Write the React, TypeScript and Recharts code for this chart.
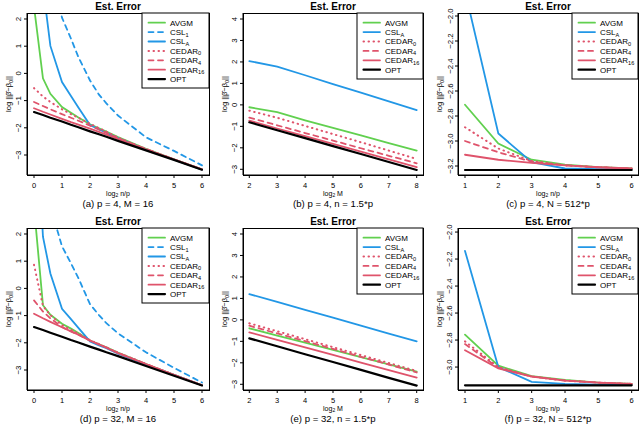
import React from "react";
import { LineChart, Line, XAxis, YAxis } from "recharts";

const FONT = '"Liberation Sans", Arial, Helvetica, sans-serif';
const RED = "#DF536B";
const GREEN = "#61D04F";
const BLUE = "#2297E6";

// x positions: log2 n/p, log2 M
const LOGNP_X = [0, 0.32, 0.585, 1, 1.32, 1.585, 2, 2.32, 2.585, 3, 4, 5, 6];
const LOGM_X = [2, 3, 4, 5, 6, 7, 8];
const LOGNP_X_BIG = [1, 2, 3, 4, 5, 6];

// (a) p = 4, M = 16
const A_AVGM = [2.46, -0.18, -0.75, -1.24, -1.45, -1.62, -1.87, -2.02, -2.14, -2.34, -2.77, -3.16, -3.53];
const A_CSL1 = [9, 6.5, 4, 2.05, 1.28, 0.6, -0.26, -0.78, -1.1, -1.55, -2.35, -2.85, -3.38];
const A_CSLA = [6.5, 3.2, 1.01, -0.32, -0.83, -1.25, -1.9, -2.06, -2.18, -2.38, -2.8, -3.17, -3.54];
const A_CED0 = [-0.54, -0.85, -1.05, -1.32, -1.5, -1.63, -1.85, -2.01, -2.14, -2.36, -2.78, -3.16, -3.53];
const A_CED4 = [-1.05, -1.2, -1.32, -1.5, -1.63, -1.74, -1.92, -2.06, -2.18, -2.38, -2.78, -3.16, -3.53];
const A_CED16 = [-1.28, -1.41, -1.51, -1.67, -1.79, -1.88, -2.03, -2.15, -2.25, -2.41, -2.79, -3.16, -3.53];
const A_OPT = [-1.42, -1.53, -1.63, -1.77, -1.89, -1.98, -2.13, -2.24, -2.33, -2.48, -2.83, -3.18, -3.54];

// (b) p = 4, n = 1.5*p
const B_AVGM = [-0.11, -0.34, -0.72, -1.07, -1.42, -1.78, -2.13];
const B_CSLA = [2.04, 1.78, 1.38, 0.97, 0.57, 0.16, -0.24];
const B_CED0 = [-0.27, -0.6, -0.98, -1.36, -1.74, -2.13, -2.52];
const B_CED4 = [-0.59, -0.95, -1.31, -1.66, -2.02, -2.37, -2.72];
const B_CED16 = [-0.73, -1.1, -1.46, -1.82, -2.18, -2.54, -2.9];
const B_OPT = [-0.81, -1.18, -1.55, -1.92, -2.29, -2.66, -3.03];

// (c) p = 4, N = 512*p
const C_AVGM = [-2.71, -3.02, -3.15, -3.19, -3.21, -3.22];
const C_CSLA = [-1.8, -2.94, -3.17, -3.22, -3.225, -3.225];
const C_CED0 = [-2.89, -3.06, -3.16, -3.195, -3.21, -3.22];
const C_CED4 = [-3.0, -3.09, -3.165, -3.195, -3.21, -3.22];
const C_CED16 = [-3.11, -3.15, -3.175, -3.195, -3.21, -3.22];
const C_OPT = [-3.232, -3.232, -3.232, -3.232, -3.232, -3.232];

// (d) p = 32, M = 16
const D_AVGM = [3.0, -0.62, -0.97, -1.3, -1.48, -1.64, -1.92, -2.06, -2.17, -2.36, -2.78, -3.18, -3.56];
const D_CSL1 = [8, 5, 3, 1.55, 0.92, 0.38, -0.58, -0.98, -1.28, -1.65, -2.35, -2.92, -3.46];
const D_CSLA = [8, 1.9, 0.55, -0.75, -1.13, -1.45, -1.95, -2.1, -2.2, -2.4, -2.8, -3.18, -3.56];
const D_CED0 = [0.87, -0.65, -0.98, -1.35, -1.52, -1.66, -1.9, -2.05, -2.17, -2.36, -2.78, -3.18, -3.56];
const D_CED4 = [-0.44, -0.85, -1.1, -1.42, -1.58, -1.7, -1.92, -2.06, -2.17, -2.37, -2.78, -3.18, -3.56];
const D_CED16 = [-0.93, -1.1, -1.23, -1.43, -1.58, -1.7, -1.92, -2.06, -2.18, -2.38, -2.78, -3.18, -3.56];
const D_OPT = [-1.42, -1.53, -1.63, -1.78, -1.9, -1.99, -2.14, -2.25, -2.35, -2.49, -2.85, -3.21, -3.57];

// (e) p = 32, n = 1.5*p
const E_AVGM = [-0.39, -0.73, -1.06, -1.4, -1.74, -2.07, -2.41];
const E_CSLA = [1.2, 0.84, 0.47, 0.1, -0.27, -0.64, -1.0];
const E_CED0 = [-0.16, -0.53, -0.9, -1.27, -1.64, -2.01, -2.38];
const E_CED4 = [-0.27, -0.63, -0.99, -1.35, -1.72, -2.08, -2.45];
const E_CED16 = [-0.58, -0.93, -1.28, -1.63, -1.99, -2.34, -2.69];
const E_OPT = [-0.86, -1.23, -1.6, -1.96, -2.33, -2.7, -3.06];

// (f) p = 32, N = 512*p
const F_AVGM = [-2.76, -2.99, -3.067, -3.096, -3.115, -3.125];
const F_CSLA = [-2.14, -3.0, -3.11, -3.125, -3.13, -3.13];
const F_CED0 = [-2.81, -3.0, -3.07, -3.1, -3.115, -3.125];
const F_CED4 = [-2.83, -3.005, -3.07, -3.1, -3.115, -3.125];
const F_CED16 = [-2.875, -3.01, -3.07, -3.1, -3.115, -3.125];
const F_OPT = [-3.135, -3.135, -3.135, -3.135, -3.135, -3.135];

const TICKS_NP = [0, 1, 2, 3, 4, 5, 6];
const TICKS_M = [2, 3, 4, 5, 6, 7, 8];
const TICKS_NP_BIG = [1, 2, 3, 4, 5, 6];
const TICKS_Y_AD = [-3, -2, -1, 0, 1, 2];
const TICKS_Y_BE = [-3, -2, -1, 0, 1, 2, 3, 4];
const TICKS_Y_C = [-3.2, -3.0, -2.8, -2.6, -2.4, -2.2, -2.0];
const TICKS_Y_F = [-3.0, -2.8, -2.6, -2.4, -2.2, -2.0];

type Key = "avgm" | "csl1" | "csla" | "ced0" | "ced4" | "ced16" | "opt";
const KEYS: Key[] = ["avgm", "csl1", "csla", "ced0", "ced4", "ced16", "opt"];

const STYLE: Record<Key, { name: string; sub: string; color: string; dash?: string; width: number }> = {
  avgm: { name: "AVGM", sub: "", color: GREEN, width: 1.8 },
  csl1: { name: "CSL", sub: "1", color: BLUE, dash: "5 4.5", width: 1.8 },
  csla: { name: "CSL", sub: "A", color: BLUE, width: 1.8 },
  ced0: { name: "CEDAR", sub: "0", color: RED, dash: "0.5 4.5", width: 2 },
  ced4: { name: "CEDAR", sub: "4", color: RED, dash: "5 4.5", width: 1.8 },
  ced16: { name: "CEDAR", sub: "16", color: RED, width: 1.8 },
  opt: { name: "OPT", sub: "", color: "#000", width: 2.2 },
};

type Panel = {
  caption: string;
  xVar: string;
  box: [number, number, number, number];
  xDomain: [number, number];
  yDomain: [number, number];
  xTicks: number[];
  yTicks: number[];
  decimals: number;
  xs: number[];
  series: Partial<Record<Key, number[]>>;
};

const PANELS: Panel[] = [
  {
    caption: "(a) p = 4, M = 16", xVar: "n/p", box: [27, 13, 209, 175],
    xDomain: [-0.25, 6.25], yDomain: [-3.735, 2.22], xTicks: TICKS_NP, yTicks: TICKS_Y_AD, decimals: 0,
    xs: LOGNP_X,
    series: { avgm: A_AVGM, csl1: A_CSL1, csla: A_CSLA, ced0: A_CED0, ced4: A_CED4, ced16: A_CED16, opt: A_OPT },
  },
  {
    caption: "(b) p = 4, n = 1.5*p", xVar: "M", box: [243, 13, 423, 175],
    xDomain: [1.774, 8.226], yDomain: [-3.266, 4.28], xTicks: TICKS_M, yTicks: TICKS_Y_BE, decimals: 0,
    xs: LOGM_X,
    series: { avgm: B_AVGM, csla: B_CSLA, ced0: B_CED0, ced4: B_CED4, ced16: B_CED16, opt: B_OPT },
  },
  {
    caption: "(c) p = 4, N = 512*p", xVar: "n/p", box: [458, 13, 638, 175],
    xDomain: [0.79, 6.19], yDomain: [-3.272, -1.976], xTicks: TICKS_NP_BIG, yTicks: TICKS_Y_C, decimals: 1,
    xs: LOGNP_X_BIG,
    series: { avgm: C_AVGM, csla: C_CSLA, ced0: C_CED0, ced4: C_CED4, ced16: C_CED16, opt: C_OPT },
  },
  {
    caption: "(d) p = 32, M = 16", xVar: "n/p", box: [27, 228, 209, 390],
    xDomain: [-0.25, 6.25], yDomain: [-3.735, 2.22], xTicks: TICKS_NP, yTicks: TICKS_Y_AD, decimals: 0,
    xs: LOGNP_X,
    series: { avgm: D_AVGM, csl1: D_CSL1, csla: D_CSLA, ced0: D_CED0, ced4: D_CED4, ced16: D_CED16, opt: D_OPT },
  },
  {
    caption: "(e) p = 32, n = 1.5*p", xVar: "M", box: [243, 228, 423, 390],
    xDomain: [1.774, 8.226], yDomain: [-3.266, 4.28], xTicks: TICKS_M, yTicks: TICKS_Y_BE, decimals: 0,
    xs: LOGM_X,
    series: { avgm: E_AVGM, csla: E_CSLA, ced0: E_CED0, ced4: E_CED4, ced16: E_CED16, opt: E_OPT },
  },
  {
    caption: "(f) p = 32, N = 512*p", xVar: "n/p", box: [458, 228, 638, 390],
    xDomain: [0.79, 6.19], yDomain: [-3.17, -1.97], xTicks: TICKS_NP_BIG, yTicks: TICKS_Y_F, decimals: 1,
    xs: LOGNP_X_BIG,
    series: { avgm: F_AVGM, csla: F_CSLA, ced0: F_CED0, ced4: F_CED4, ced16: F_CED16, opt: F_OPT },
  },
];

const PAD_L = 27;
const PAD_T = 13;

function fmt(v: number, dec: number) {
  const s = Math.abs(v).toFixed(dec);
  return v < 0 ? "\u2212" + s : s;
}

function PanelChart({ p }: { p: Panel }) {
  const [x0, y0, x1, y1] = p.box;
  const w = x1 - x0 + PAD_L + 3;
  const h = y1 - y0 + PAD_T + 32;
  const plotBottom = y1 - y0 + PAD_T;
  const keys = KEYS.filter((k) => p.series[k]);
  const rows = p.xs.map((x, i) => {
    const r: Record<string, number> = { x };
    keys.forEach((k) => {
      r[k] = (p.series[k] as number[])[i];
    });
    return r;
  });
  return (
    <div style={{ position: "absolute", left: x0 - PAD_L, top: y0 - PAD_T }}>
      <LineChart width={w} height={h} data={rows} margin={{ top: PAD_T, right: 3, bottom: 12, left: 7 }}>
        <XAxis
          type="number"
          dataKey="x"
          domain={p.xDomain}
          ticks={p.xTicks}
          interval={0}
          allowDataOverflow
          height={20}
          tickSize={3}
          stroke="#000"
          tick={(t: any) => (
            <text x={t.x} y={plotBottom + 12.6} textAnchor="middle" fontSize={7.5} fontFamily={FONT} fill="#000">
              {fmt(t.payload.value, 0)}
            </text>
          )}
        />
        <YAxis
          type="number"
          domain={p.yDomain}
          ticks={p.yTicks}
          interval={0}
          allowDataOverflow
          width={20}
          tickSize={3}
          stroke="#000"
          tick={(t: any) => (
            <text
              x={PAD_L - 5.5}
              y={t.y}
              transform={`rotate(-90, ${PAD_L - 5.5}, ${t.y})`}
              textAnchor="middle"
              fontSize={7.8}
              fontFamily={FONT}
              fill="#000"
            >
              {fmt(t.payload.value, p.decimals)}
            </text>
          )}
        />
        {keys.map((k) => (
          <Line
            key={k}
            dataKey={k}
            type="linear"
            dot={false}
            stroke={STYLE[k].color}
            strokeWidth={STYLE[k].width}
            strokeDasharray={STYLE[k].dash}
            strokeLinecap="round"
            isAnimationActive={false}
          />
        ))}
      </LineChart>
    </div>
  );
}

function Legend({ p }: { p: Panel }) {
  const [, y0, x1] = p.box;
  const keys = KEYS.filter((k) => p.series[k]);
  const n = keys.length;
  const lw = n === 7 ? 67 : 66;
  const lh = n === 7 ? 75 : 66;
  const lx = x1 - lw;
  return (
    <g>
      <rect x={lx} y={y0} width={lw} height={lh} fill="#fff" stroke="#000" strokeWidth={1} />
      {keys.map((k, i) => {
        const cy = y0 + 9.7 + i * 9.4;
        const s = STYLE[k];
        return (
          <g key={k}>
            <line
              x1={lx + 6.5}
              x2={lx + 23}
              y1={cy}
              y2={cy}
              stroke={s.color}
              strokeWidth={s.width}
              strokeDasharray={s.dash}
              strokeLinecap="round"
            />
            <text x={lx + 28} y={cy + 2.9} fontSize={8} fontFamily={FONT} fill="#000">
              {s.name}
              {s.sub && (
                <tspan fontSize={5.6} dy={1.6}>
                  {s.sub}
                </tspan>
              )}
            </text>
          </g>
        );
      })}
    </g>
  );
}

function PanelText({ p }: { p: Panel }) {
  const [x0, y0, x1, y1] = p.box;
  const cx = (x0 + x1) / 2;
  const cy = (y0 + y1) / 2;
  const yx = x0 - 16;
  return (
    <g fontFamily={FONT} fill="#000">
      <rect x={x0 + 0.5} y={y0 + 0.5} width={x1 - x0} height={y1 - y0} fill="none" stroke="#000" strokeWidth={1} />
      <text x={cx} y={y0 - 3} textAnchor="middle" fontSize={10} fontWeight="bold">
        Est. Error
      </text>
      <text x={cx} y={y1 + 20.6} textAnchor="middle" fontSize={7}>
        log<tspan fontSize={5} dy={1.4}>2</tspan>
        <tspan dy={-1.4}> {p.xVar}</tspan>
      </text>
      <text x={cx} y={y1 + 31.6} textAnchor="middle" fontSize={9.6}>
        {p.caption}
      </text>
      <text x={yx} y={cy} transform={`rotate(-90, ${yx}, ${cy})`} textAnchor="middle" fontSize={7.5}>
        log ||β̂−β<tspan fontSize={5.4} dy={1.5}>0</tspan>
        <tspan dy={-1.5}>||</tspan>
      </text>
      <Legend p={p} />
    </g>
  );
}

export default function App() {
  return (
    <div
      style={{
        position: "absolute",
        left: 0,
        top: 0,
        width: 640,
        height: 444,
        overflow: "hidden",
        background: "#fff",
      }}
    >
      {PANELS.map((p) => (
        <PanelChart key={p.caption} p={p} />
      ))}
      <svg width={640} height={444} style={{ position: "absolute", left: 0, top: 0, pointerEvents: "none" }}>
        {PANELS.map((p) => (
          <PanelText key={p.caption} p={p} />
        ))}
      </svg>
    </div>
  );
}
